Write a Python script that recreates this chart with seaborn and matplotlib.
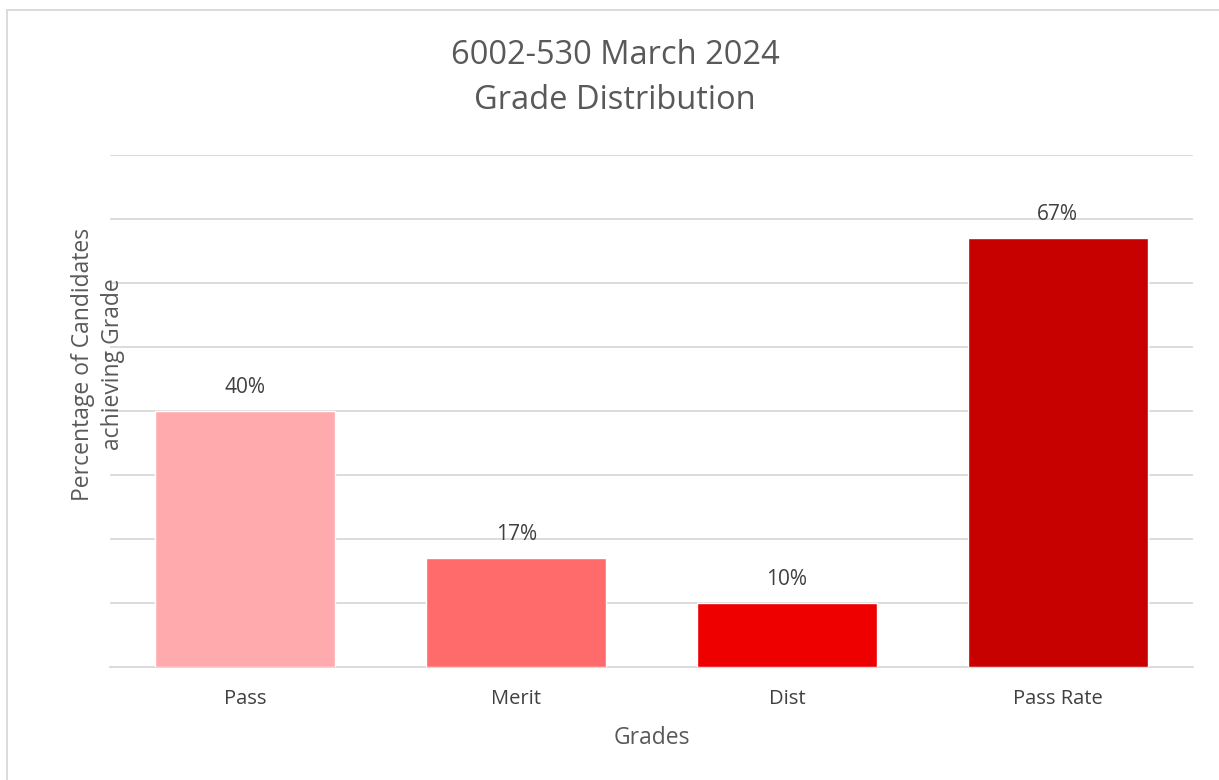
import matplotlib
matplotlib.use("Agg")
import matplotlib.pyplot as plt
import seaborn as sns
import pandas as pd
from matplotlib.patches import Rectangle

grades = ["Pass", "Merit", "Dist", "Pass Rate"]
percentages = [0.40, 0.17, 0.10, 0.67]
bar_colors = ["#FFABAD", "#FF6B6B", "#EE0000", "#C70000"]

df = pd.DataFrame({"Grade": grades, "Pct": percentages})

sns.set_theme(style="white")
plt.rcParams["font.family"] = ["Open Sans", "DejaVu Sans"]

fig = plt.figure(figsize=(12.19, 7.8), dpi=100)
ax = fig.add_axes([110 / 1219, 1 - 667 / 780, (1193 - 110) / 1219, (667 - 155) / 780])

sns.barplot(data=df, x="Grade", y="Pct", hue="Grade", palette=bar_colors,
            width=0.665, legend=False, saturation=1, ax=ax, zorder=3)

ax.set_ylim(0, 0.8)
ax.set_xlim(-0.5, 3.5)
ax.set_yticks([i / 10 for i in range(9)])
ax.set_yticklabels([])
ax.tick_params(axis="y", length=0)
ax.tick_params(axis="x", length=0, labelsize=14.5, labelcolor="#404040", pad=16)
ax.yaxis.grid(True, color="#D9D9D9", linewidth=1.3, zorder=0)
ax.set_axisbelow(True)
for side in ["top", "right", "left"]:
    ax.spines[side].set_visible(False)
ax.spines["bottom"].set_color("#D9D9D9")
ax.spines["bottom"].set_linewidth(1.3)

for i, v in enumerate(percentages):
    ax.text(i, v + 0.02, f"{v:.0%}", ha="center", va="bottom",
            fontsize=15, color="#404040")

ax.set_xlabel("Grades", fontsize=16.5, color="#595959", labelpad=12)
ax.set_ylabel("")
fig.text(98 / 1219, 1 - 364 / 780, "Percentage of Candidates\nachieving Grade",
         rotation=90, ha="center", va="center", fontsize=16.5, color="#595959",
         multialignment="center", linespacing=1.35)

fig.text(615 / 1219, 1 - 78 / 780, "6002-530 March 2024\nGrade Distribution",
         ha="center", va="center", fontsize=23.5, color="#595959", linespacing=1.45)

fig.patches.append(Rectangle((7 / 1219, -0.1), 1.2, 1 - 10 / 780 + 0.1,
                             transform=fig.transFigure, fill=False,
                             edgecolor="#D9D9D9", linewidth=1.3))

fig.savefig("out.png", dpi=100)
